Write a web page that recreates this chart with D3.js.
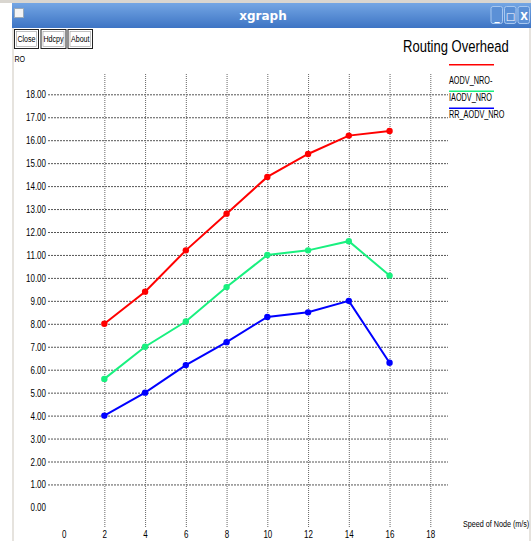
<!DOCTYPE html>
<html>
<head>
<meta charset="utf-8">
<script src="https://cdn.jsdelivr.net/npm/d3@7"></script>
<style>
  body { margin: 0; background: #fff; }
  svg { display: block; }
  .narrow { font-family: "Liberation Sans", Arial, sans-serif; }
</style>
</head>
<body>
<div id="chart"></div>
<script>
// data
var speeds = [2, 4, 6, 8, 10, 12, 14, 16];
var aodv = [8.0, 9.4, 11.2, 12.8, 14.4, 15.4, 16.2, 16.4];
var iaodv = [5.6, 7.0, 8.1, 9.6, 11.0, 11.2, 11.6, 10.1];
var rrAodv = [4.0, 5.0, 6.2, 7.2, 8.3, 8.5, 9.0, 6.3];
var seriesNames = ["AODV_NRO-", "IAODV_NRO", "RR_AODV_NRO"];
var seriesColors = ["#ff0000", "#19f07f", "#0000ff"];
var xTicks = [0, 2, 4, 6, 8, 10, 12, 14, 16, 18];
var yTicks = d3.range(0, 19);

var width = 531, height = 541;

var svg = d3.select("#chart").append("svg")
    .attr("width", width)
    .attr("height", height);

// the xgraph font is a narrow bitmap one, so squeeze the text sideways
function squeeze(sel, k) {
    sel.each(function () {
        var t = d3.select(this);
        var x0 = +t.attr("x") || 0;
        t.attr("x", x0 / k).attr("transform", "scale(" + k + ",1)");
    });
}

// window frame
var defs = svg.append("defs");
var grad = defs.append("linearGradient").attr("id", "bar").attr("x1", 0).attr("y1", 0).attr("x2", 0).attr("y2", 1);
grad.append("stop").attr("offset", "0%").attr("stop-color", "#74a6e4");
grad.append("stop").attr("offset", "100%").attr("stop-color", "#3d74c4");

svg.append("rect").attr("x", 0).attr("y", 0).attr("width", width).attr("height", 3).style("fill", "#d9d6d0");
svg.append("rect").attr("x", 12).attr("y", 3).attr("width", width - 12).attr("height", 25).style("fill", "url(#bar)");
svg.append("rect").attr("x", 12).attr("y", 28).attr("width", 2).attr("height", height - 28).style("fill", "#e6e3de");
svg.append("rect").attr("x", 529).attr("y", 28).attr("width", 2).attr("height", height - 28).style("fill", "#e6e3de");
// icon on the left
svg.append("rect").attr("x", 14.5).attr("y", 8.5).attr("width", 9).attr("height", 9)
    .style("fill", "#f4f4f4").style("stroke", "#9ab").style("stroke-width", 1);
svg.append("text")
    .attr("x", 263).attr("y", 20)
    .text("xgraph")
    .style("font-family", "DejaVu Sans, sans-serif")
    .style("font-weight", "bold")
    .style("font-size", "12px")
    .style("fill", "#fff")
    .style("text-anchor", "middle");

// min / max / close buttons
var winButtons = [{x: 491, t: "_"}, {x: 504.5, t: "□"}, {x: 518, t: "X"}];
winButtons.forEach(function (b) {
    svg.append("rect").attr("x", b.x).attr("y", 6.5).attr("width", 11.5).attr("height", 17).attr("rx", 2)
        .style("fill", "#5b90d6").style("stroke", "#a8c8f0").style("stroke-width", 1);
    svg.append("text").attr("x", b.x + 6).attr("y", 20).text(b.t)
        .style("font-family", "DejaVu Sans, sans-serif").style("font-weight", "bold")
        .style("font-size", "10px").style("fill", "#fff").style("text-anchor", "middle");
});

// xgraph buttons
var buttons = [{x: 14, w: 24, t: "Close"}, {x: 40.5, w: 25, t: "Hdcpy"}, {x: 67.5, w: 24.5, t: "About"}];
buttons.forEach(function (b) {
    svg.append("rect").attr("x", b.x + 0.5).attr("y", 29.5).attr("width", b.w).attr("height", 19)
        .style("fill", "#fff").style("stroke", "#222").style("stroke-width", 1);
    svg.append("rect").attr("x", b.x + 2.5).attr("y", 31.5).attr("width", b.w - 4).attr("height", 15)
        .style("fill", "none").style("stroke", "#999").style("stroke-width", 0.6);
    svg.append("text").attr("x", b.x + 0.5 + b.w / 2).attr("y", 42.5).text(b.t)
        .attr("class", "narrow")
        .style("font-size", "9.5px").style("fill", "#000").style("text-anchor", "middle")
        .call(squeeze, 0.75);
});

svg.append("text").attr("x", 14.5).attr("y", 62).text("RO")
    .attr("class", "narrow").style("font-size", "9.5px").call(squeeze, 0.75);
svg.append("text").attr("x", 403).attr("y", 52).text("Routing Overhead")
    .attr("class", "narrow").style("font-size", "16.5px")
    .call(squeeze, 0.79);

// scales
var x = d3.scaleLinear().domain([0, 18]).range([63.6, 430.3]);
var y = d3.scaleLinear().domain([0, 18]).range([507.4, 94.3]);

var gridStyle = function (sel) {
    sel.selectAll("line")
        .style("stroke", "#555")
        .style("stroke-width", 1)
        .style("stroke-dasharray", "2,1");
    sel.select(".domain").remove();
};

// y axis with horizontal grid lines
var yAxis = svg.append("g")
    .attr("transform", "translate(48,0)")
    .call(d3.axisLeft(y).tickValues(yTicks).tickFormat(d3.format(".2f"))
        .tickSize(-400).tickPadding(2))
    .call(gridStyle);
yAxis.selectAll(".tick").filter(function (d) { return d === 0; }).select("line").remove();
yAxis.selectAll("text")
    .attr("class", "narrow")
    .style("font-size", "10px")
    .style("fill", "#000")
    .attr("dy", "0.35em")
    .call(squeeze, 0.8);

// x axis with vertical grid lines
var xAxis = svg.append("g")
    .attr("transform", "translate(0,527)")
    .call(d3.axisBottom(x).tickValues(xTicks).tickFormat(d3.format("d"))
        .tickSize(-453).tickPadding(4))
    .call(gridStyle);
xAxis.selectAll(".tick").filter(function (d) { return d === 0; }).select("line").remove();
xAxis.selectAll("line").style("stroke", "#666").style("stroke-dasharray", "1,1");
xAxis.selectAll("text")
    .attr("class", "narrow")
    .style("font-size", "10px")
    .style("fill", "#000")
    .call(squeeze, 0.8);

svg.append("text").attr("x", 463).attr("y", 527).text("Speed of Node (m/s)")
    .attr("class", "narrow").style("font-size", "9px")
    .call(squeeze, 0.8);

// series
var allSeries = [aodv, iaodv, rrAodv];
var line = d3.line()
    .x(function (d) { return x(d.s); })
    .y(function (d) { return y(d.v); });

allSeries.forEach(function (vals, i) {
    var pts = speeds.map(function (s, j) { return {s: s, v: vals[j]}; });
    svg.append("path")
        .datum(pts)
        .attr("d", line)
        .style("fill", "none")
        .style("stroke", seriesColors[i])
        .style("stroke-width", 2);
    svg.selectAll("circle.s" + i)
        .data(pts)
        .enter().append("circle")
        .attr("class", "s" + i)
        .attr("cx", function (d) { return x(d.s); })
        .attr("cy", function (d) { return y(d.v); })
        .attr("r", 3.2)
        .style("fill", seriesColors[i]);
});

// legend
var legendY = [64.7, 91.3, 108.3];
seriesNames.forEach(function (name, i) {
    svg.append("line")
        .attr("x1", 449).attr("x2", 494)
        .attr("y1", legendY[i]).attr("y2", legendY[i])
        .style("stroke", seriesColors[i])
        .style("stroke-width", 1.5);
    svg.append("text")
        .attr("x", 449).attr("y", legendY[i] + (i === 0 ? 19.5 : 9.7))
        .text(name)
        .attr("class", "narrow")
        .style("font-size", "10px")
        .style("fill", "#000")
        .call(squeeze, 0.73);
});
</script>
</body>
</html>
